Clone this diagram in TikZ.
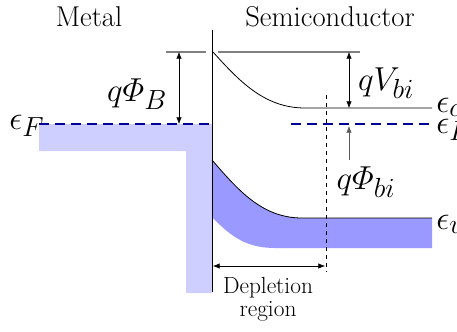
\documentclass[tikz,border=0pt]{standalone}
\usepackage{amsmath}
\usepackage{fontspec}
\usetikzlibrary{positioning,arrows.meta}
\definecolor{metalfill}{RGB}{206,206,255}
\definecolor{bandfill}{RGB}{153,153,255}
\definecolor{fermiblue}{RGB}{0,0,150}

\begin{document}
\begin{tikzpicture}[
  x=0.75pt, y=-0.75pt,
  title/.style={font=\fontsize{21.5}{23}\selectfont, inner sep=0pt},
  qlab/.style={font=\fontsize{24.88}{27}\selectfont, inner sep=0pt},
  elev/.style={font=\fontsize{24.88}{27}\selectfont, inner sep=0pt, anchor=base west},
  small/.style={font=\fontsize{17.5}{17.5}\selectfont, align=center, inner sep=0pt},
  arr/.style={{Latex[length=5pt,width=4pt]}-{Latex[length=5pt,width=4pt]}, thin},
  uparr/.style={-{Latex[length=5pt,width=4pt]}, thin, black!65},
  fermi/.style={fermiblue, line width=2.2pt, dash pattern=on 7.5pt off 4.5pt},
  vac/.style={black!50, line width=1pt},
  band/.style={black, line width=0.6pt}]
  \useasboundingbox (0,0) rectangle (457,332);

  % metal: filled states up to the Fermi level
  \fill[metalfill] (39,124) -- (212,124) -- (212,293) -- (186,293) -- (186,151) -- (39,151) -- cycle;
  % semiconductor valence band
  \fill[bandfill] (212,160) .. controls (238,190) and (262,218) .. (302,218) -- (432,218)
    -- (432,248) -- (275,248) .. controls (248,248) and (232,238) .. (212,217) -- cycle;

  \node[title] (metal) at (89,17) {Metal};
  \node[title] (semi) at (330,17) {Semiconductor};

  \coordinate (ifTop) at (212,30);
  \coordinate (ifBot) at (212,292);
  \draw[line width=0.6pt] (ifTop) -- (ifBot);

  % barrier top
  \coordinate (vacL) at (166,52); \coordinate (vacM) at (206,52);
  \coordinate (vacR) at (218,52); \coordinate (vacE) at (360,52);
  \draw[vac] (vacL) -- (vacM);
  \draw[vac] (vacR) -- (vacE);

  % bands
  \coordinate (ecStart) at (213,52);
  \coordinate (ecEnd) at (432,108);
  \draw[band] (ecStart) .. controls (240,82) and (265,108) .. (305,108) -- (ecEnd);
  \coordinate (evStart) at (212,160);
  \coordinate (evEnd) at (432,218);
  \draw[band] (evStart) .. controls (238,190) and (262,218) .. (302,218) -- (evEnd);

  % Fermi level
  \coordinate (efL) at (39,124); \coordinate (efM) at (212,124);
  \coordinate (efS) at (291,124); \coordinate (efR) at (432,124);
  \draw[fermi] (efL) -- (efM);
  \draw[fermi] (efS) -- (efR);

  % depletion edge
  \coordinate (depTop) at (326,95);
  \coordinate (depBot) at (326,272);
  \draw[dashed, thin] (depTop) -- (depBot);

  % energy arrows
  \coordinate (phiBt) at (179,52); \coordinate (phiBb) at (179,124);
  \draw[arr] (phiBt) -- (phiBb);
  \node[qlab] (phiB) at (137,94) {$q\varPhi_B$};
  \coordinate (vbiT) at (349,52); \coordinate (vbiB) at (349,108);
  \draw[arr] (vbiT) -- (vbiB);
  \node[qlab] (vbi) at (386,83) {$qV_{bi}$};
  \coordinate (phibiS) at (349,160); \coordinate (phibiE) at (349,126);
  \draw[uparr] (phibiS) -- (phibiE);
  \node[qlab] (phibi) at (366,182) {$q\varPhi_{bi}$};

  % depletion width
  \coordinate (depL) at (213,266); \coordinate (depR) at (325,266);
  \draw[arr] (depL) -- (depR);
  \node[small, anchor=north] (deplab) at (268,277) {Depletion\\region};

  % level labels
  \node[elev] (efmet) at (9,129) {$\epsilon_F$};
  \node[elev] (ec) at (436,112) {$\epsilon_c$};
  \node[elev] (efsem) at (436,133) {$\epsilon_F$};
  \node[elev] (ev) at (436,229) {$\epsilon_v$};
\end{tikzpicture}
\end{document}
